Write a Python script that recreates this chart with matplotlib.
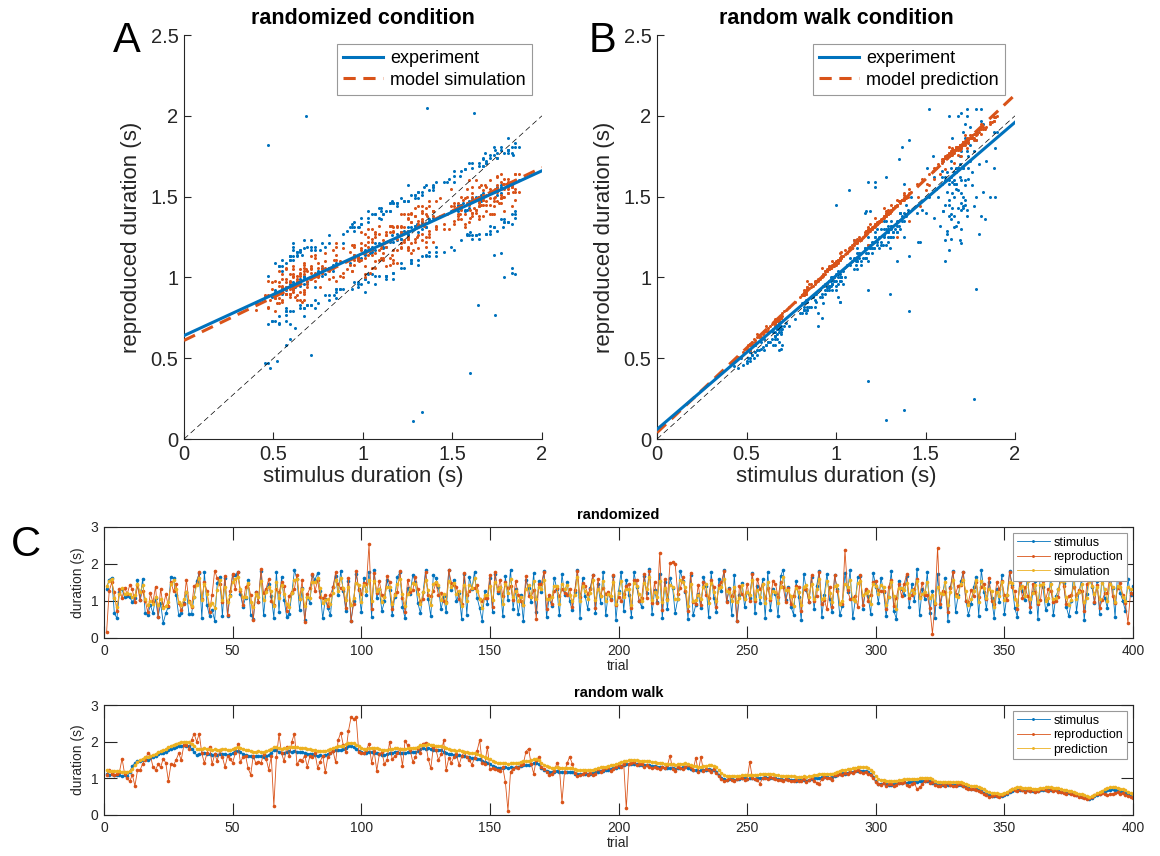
import numpy as np
import matplotlib
matplotlib.use("Agg")
import matplotlib.pyplot as plt

plt.rcParams["font.family"] = ["Liberation Sans", "DejaVu Sans"]

BLUE = "#0072BD"
ORANGE = "#D95319"
YELLOW = "#EDB120"
AXC = "#262626"

# ---- randomized condition, per trial (values in 1/100 s) -------------------
rand_stim = [
    133, 158, 163, 67, 53, 125, 131, 110, 113, 110,
    98, 107, 158, 103, 160, 67, 62, 89, 67, 107,
    57, 94, 40, 67, 85, 166, 161, 116, 62, 67,
    94, 125, 65, 65, 110, 155, 175, 55, 177, 89,
    59, 76, 47, 148, 166, 59, 161, 59, 116, 171,
    171, 177, 119, 84, 109, 156, 63, 52, 125, 97,
    181, 61, 130, 147, 113, 55, 178, 71, 165, 103,
    57, 66, 121, 183, 159, 75, 134, 48, 111, 95,
    169, 158, 175, 127, 53, 104, 81, 61, 139, 168,
    115, 181, 127, 73, 154, 45, 101, 173, 133, 69,
    163, 117, 178, 57, 184, 107, 131, 73, 99, 157,
    129, 61, 111, 165, 177, 85, 53, 135, 119, 171,
    151, 94, 67, 123, 183, 105, 59, 169, 161, 137,
    77, 113, 69, 185, 129, 157, 99, 121, 51, 173,
    63, 165, 133, 179, 109, 81, 47, 127, 93, 161,
    71, 174, 121, 139, 59, 167, 103, 185, 79, 131,
    65, 117, 45, 157, 135, 97, 175, 71, 153, 123,
    181, 57, 107, 87, 163, 133, 61, 173, 117, 151,
    99, 75, 125, 185, 55, 161, 113, 79, 135, 169,
    67, 145, 95, 177, 61, 121, 105, 167, 49, 127,
    179, 73, 157, 115, 57, 177, 139, 101, 83, 167,
    121, 187, 65, 129, 97, 174, 53, 151, 77, 162,
    136, 68, 105, 181, 155, 125, 51, 171, 61, 89,
    119, 81, 165, 141, 57, 177, 107, 71, 159, 127,
    183, 99, 135, 63, 171, 47, 115, 149, 83, 125,
    109, 175, 67, 141, 95, 159, 55, 179, 75, 133,
    119, 59, 167, 185, 103, 137, 85, 63, 153, 111,
    49, 173, 129, 97, 165, 77, 141, 181, 57, 117,
    174, 105, 69, 169, 131, 61, 87, 176, 123, 183,
    53, 101, 164, 167, 79, 129, 113, 65, 175, 139,
    95, 163, 125, 59, 111, 181, 73, 51, 155, 133,
    117, 167, 83, 145, 99, 187, 61, 131, 105, 177,
    67, 128, 55, 172, 85, 121, 161, 47, 137, 181,
    71, 115, 153, 179, 101, 63, 91, 137, 165, 59,
    185, 125, 77, 151, 107, 55, 133, 97, 171, 65,
    117, 181, 143, 81, 57, 165, 127, 103, 173, 69,
    123, 155, 51, 183, 137, 75, 93, 169, 61, 113,
    131, 175, 149, 85, 59, 101, 183, 71, 125, 159,
    49, 119, 171, 139, 95, 153, 65, 185, 109, 81,
    165, 135, 57, 179, 121, 101, 73, 160, 115, 141,
]
rand_repro = [
    17, 127, 150, 123, 72, 131, 108, 136, 119, 143,
    131, 96, 142, 102, 128, 101, 69, 121, 96, 139,
    58, 133, 84, 118, 87, 151, 126, 147, 94, 76,
    93, 157, 99, 83, 141, 145, 177, 104, 152, 127,
    71, 117, 182, 161, 147, 96, 168, 62, 126, 174,
    132, 179, 127, 89, 137, 146, 116, 48, 125, 97,
    186, 121, 133, 159, 99, 90, 131, 123, 150, 141,
    73, 114, 124, 133, 171, 104, 156, 44, 118, 134,
    172, 126, 156, 111, 107, 115, 86, 117, 137, 177,
    146, 134, 131, 81, 163, 47, 91, 181, 130, 119,
    149, 146, 253, 77, 176, 121, 153, 117, 112, 167,
    151, 79, 119, 124, 181, 109, 71, 157, 123, 129,
    166, 131, 99, 106, 177, 116, 113, 127, 148, 116,
    121, 101, 97, 183, 149, 142, 137, 106, 92, 176,
    116, 127, 134, 134, 143, 106, 101, 109, 109, 171,
    83, 179, 128, 157, 113, 152, 134, 141, 102, 153,
    117, 99, 88, 167, 114, 111, 129, 52, 145, 147,
    179, 79, 117, 93, 126, 134, 113, 131, 122, 117,
    133, 84, 129, 181, 111, 149, 141, 119, 131, 171,
    81, 159, 114, 136, 119, 124, 102, 169, 88, 111,
    100, 119, 141, 146, 81, 157, 156, 99, 108, 174,
    109, 181, 95, 151, 94, 229, 76, 159, 106, 202,
    205, 200, 119, 134, 166, 126, 73, 176, 97, 93,
    144, 89, 150, 116, 109, 156, 139, 83, 143, 151,
    181, 96, 131, 113, 127, 47, 141, 119, 104, 147,
    101, 174, 100, 159, 131, 147, 107, 136, 103, 153,
    146, 111, 150, 137, 97, 136, 91, 114, 141, 139,
    73, 131, 132, 96, 169, 101, 113, 179, 92, 103,
    77, 139, 83, 171, 128, 93, 93, 238, 129, 106,
    107, 114, 83, 169, 89, 132, 101, 117, 151, 154,
    129, 126, 127, 79, 139, 158, 86, 109, 145, 113,
    146, 173, 107, 116, 133, 160, 111, 149, 117, 115,
    81, 11, 93, 244, 93, 128, 124, 71, 135, 179,
    119, 141, 144, 177, 99, 97, 129, 113, 150, 111,
    139, 147, 104, 163, 101, 93, 151, 131, 153, 116,
    103, 177, 138, 126, 79, 150, 109, 137, 114, 83,
    147, 123, 91, 103, 154, 103, 131, 127, 96, 101,
    111, 174, 141, 93, 113, 117, 139, 117, 129, 126,
    73, 146, 153, 156, 97, 143, 81, 102, 121, 121,
    171, 113, 94, 134, 149, 115, 94, 41, 122, 119,
]
rand_sim = [
    140, 155, 160, 108, 84, 118, 135, 120, 122, 118,
    110, 115, 146, 125, 142, 106, 88, 100, 92, 110,
    90, 104, 80, 86, 98, 145, 156, 132, 96, 90,
    104, 124, 98, 86, 112, 142, 162, 102, 146, 118,
    90, 94, 82, 130, 157, 102, 138, 98, 114, 152,
    160, 164, 131, 111, 111, 148, 98, 84, 119, 112,
    155, 102, 125, 139, 128, 86, 150, 107, 144, 119,
    93, 85, 121, 156, 160, 106, 132, 86, 111, 108,
    151, 150, 163, 134, 95, 103, 104, 91, 122, 157,
    128, 161, 134, 103, 139, 89, 107, 149, 144, 96,
    142, 128, 158, 99, 153, 128, 133, 98, 111, 139,
    138, 92, 115, 146, 159, 119, 87, 119, 132, 149,
    146, 120, 91, 123, 156, 130, 88, 147, 152, 144,
    103, 119, 94, 155, 138, 149, 118, 128, 87, 144,
    101, 144, 136, 161, 127, 106, 81, 115, 116, 140,
    103, 150, 131, 138, 93, 145, 122, 160, 110, 126,
    101, 111, 88, 131, 143, 112, 153, 105, 139, 131,
    156, 105, 106, 110, 140, 141, 93, 147, 131, 144,
    117, 100, 117, 164, 99, 140, 126, 106, 122, 156,
    102, 133, 114, 155, 100, 119, 114, 151, 93, 121,
    155, 112, 133, 132, 90, 149, 141, 120, 100, 148,
    132, 164, 103, 124, 112, 154, 97, 135, 103, 143,
    138, 105, 106, 158, 150, 137, 87, 145, 101, 103,
    117, 106, 138, 147, 94, 149, 125, 99, 134, 139,
    159, 128, 125, 99, 139, 98, 108, 144, 106, 124,
    117, 157, 104, 130, 111, 145, 95, 150, 109, 127,
    124, 95, 138, 164, 130, 129, 114, 86, 136, 123,
    89, 139, 143, 111, 147, 105, 132, 159, 106, 109,
    155, 122, 98, 141, 144, 93, 101, 146, 139, 158,
    104, 100, 148, 154, 115, 122, 126, 91, 147, 141,
    119, 142, 139, 90, 112, 152, 114, 79, 136, 135,
    129, 148, 117, 130, 121, 153, 107, 118, 124, 151,
    109, 117, 94, 139, 121, 118, 150, 89, 125, 158,
    113, 112, 146, 158, 127, 89, 105, 127, 156, 97,
    153, 136, 107, 133, 127, 85, 123, 113, 152, 102,
    117, 152, 149, 106, 90, 136, 140, 114, 153, 104,
    122, 143, 98, 144, 147, 101, 108, 145, 105, 107,
    132, 154, 155, 111, 90, 102, 157, 106, 125, 146,
    97, 109, 155, 141, 120, 138, 105, 148, 132, 99,
    147, 139, 97, 141, 139, 112, 101, 137, 132, 131,
]

# ---- random walk condition, per trial (values in 1/100 s) ------------------
walk_stim = [
    112, 110, 111, 108, 110, 109, 107, 108, 105, 118,
    134, 141, 147, 146, 150, 152, 151, 155, 158, 161,
    166, 170, 168, 173, 178, 181, 183, 186, 188, 189,
    190, 188, 189, 181, 172, 163, 165, 168, 170, 167,
    165, 164, 166, 163, 165, 167, 166, 163, 165, 168,
    174, 175, 171, 167, 164, 162, 161, 159, 160, 161,
    160, 159, 162, 164, 170, 177, 176, 172, 168, 170,
    172, 174, 173, 175, 173, 171, 172, 169, 167, 166,
    166, 164, 162, 163, 161, 163, 165, 169, 174, 177,
    178, 176, 179, 184, 187, 188, 186, 180, 175, 171,
    168, 170, 172, 171, 169, 170, 167, 164, 163, 166,
    168, 170, 172, 171, 169, 168, 170, 171, 173, 172,
    172, 175, 180, 182, 181, 182, 180, 178, 177, 178,
    176, 173, 169, 167, 165, 163, 162, 164, 161, 160,
    159, 157, 155, 156, 154, 152, 148, 145, 141, 138,
    134, 131, 129, 128, 129, 130, 128, 130, 129, 131,
    132, 134, 136, 135, 137, 138, 141, 142, 138, 127,
    122, 119, 118, 117, 118, 119, 117, 118, 116, 117,
    118, 116, 113, 112, 111, 113, 112, 111, 112, 114,
    116, 118, 120, 121, 122, 123, 125, 127, 129, 131,
    134, 136, 138, 139, 140, 139, 138, 137, 136, 136,
    137, 135, 134, 133, 132, 132, 131, 129, 127, 128,
    127, 126, 128, 129, 130, 131, 128, 125, 123, 122,
    121, 122, 123, 124, 125, 124, 122, 118, 110, 102,
    98, 96, 97, 98, 96, 97, 99, 100, 101, 99,
    100, 101, 99, 100, 102, 101, 103, 102, 101, 102,
    100, 98, 97, 96, 97, 98, 96, 95, 94, 95,
    95, 96, 94, 96, 98, 100, 101, 102, 103, 104,
    103, 102, 104, 106, 109, 112, 114, 113, 115, 116,
    117, 119, 120, 121, 120, 119, 117, 112, 103, 92,
    84, 85, 86, 84, 82, 83, 84, 86, 87, 88,
    89, 88, 90, 89, 91, 90, 92, 93, 94, 93,
    92, 88, 84, 82, 83, 81, 82, 83, 82, 81,
    82, 83, 82, 80, 77, 74, 72, 71, 70, 69,
    66, 61, 56, 54, 53, 52, 53, 51, 52, 55,
    58, 62, 66, 68, 69, 68, 67, 66, 67, 66,
    65, 66, 65, 67, 68, 69, 68, 69, 67, 68,
    66, 64, 62, 61, 60, 59, 57, 55, 52, 50,
    48, 45, 43, 47, 52, 55, 58, 62, 66, 68,
    69, 70, 68, 67, 65, 63, 60, 56, 52, 50,
]
walk_repro = [
    110, 123, 112, 108, 112, 118, 154, 112, 100, 92,
    110, 79, 122, 122, 140, 150, 168, 162, 132, 123,
    138, 130, 154, 142, 93, 138, 136, 150, 168, 150,
    190, 190, 180, 204, 222, 200, 222, 168, 142, 168,
    186, 139, 165, 148, 177, 158, 131, 160, 152, 143,
    168, 193, 144, 158, 162, 127, 110, 162, 141, 145,
    141, 166, 153, 124, 160, 25, 157, 220, 168, 146,
    186, 161, 200, 222, 138, 150, 148, 162, 132, 160,
    158, 168, 129, 145, 162, 117, 159, 170, 175, 144,
    204, 225, 190, 172, 229, 266, 262, 266, 172, 168,
    168, 178, 195, 143, 175, 121, 165, 172, 138, 150,
    200, 152, 160, 168, 180, 134, 202, 190, 178, 145,
    157, 182, 170, 195, 197, 153, 127, 185, 178, 150,
    165, 204, 123, 155, 143, 158, 165, 136, 160, 172,
    158, 150, 137, 155, 175, 204, 142, 140, 185, 125,
    128, 125, 122, 120, 130, 90, 12, 118, 125, 130,
    128, 135, 140, 173, 181, 140, 113, 150, 158, 130,
    125, 118, 110, 112, 120, 141, 128, 36, 118, 141,
    159, 140, 115, 105, 108, 112, 118, 110, 115, 108,
    112, 125, 118, 122, 128, 130, 120, 126, 132, 135,
    132, 140, 18, 138, 142, 145, 135, 138, 140, 130,
    135, 132, 128, 130, 128, 125, 132, 128, 135, 162,
    125, 120, 130, 128, 125, 132, 135, 130, 122, 156,
    118, 159, 120, 125, 122, 118, 125, 115, 105, 98,
    92, 95, 100, 96, 94, 98, 100, 102, 96, 98,
    145, 100, 98, 95, 85, 102, 100, 98, 104, 100,
    98, 96, 95, 94, 99, 96, 92, 94, 96, 92,
    94, 98, 90, 95, 100, 92, 88, 85, 98, 104,
    100, 102, 96, 108, 110, 112, 110, 115, 112, 118,
    115, 120, 122, 118, 115, 118, 112, 110, 100, 90,
    85, 82, 88, 80, 84, 85, 80, 82, 88, 86,
    90, 82, 78, 85, 88, 70, 75, 84, 92, 95,
    88, 90, 82, 80, 78, 84, 80, 86, 82, 78,
    80, 85, 84, 78, 74, 70, 72, 70, 68, 66,
    62, 58, 55, 50, 52, 55, 52, 50, 54, 58,
    60, 66, 70, 68, 65, 70, 68, 64, 68, 66,
    68, 64, 66, 70, 72, 68, 66, 70, 65, 68,
    64, 62, 60, 58, 62, 57, 55, 54, 50, 48,
    46, 44, 45, 50, 54, 58, 56, 60, 58, 55,
    56, 58, 60, 62, 58, 60, 55, 52, 48, 47,
]
walk_pred = [
    122, 121, 121, 119, 120, 120, 118, 118, 117, 120,
    125, 135, 144, 150, 154, 157, 158, 161, 164, 167,
    171, 175, 176, 180, 185, 189, 192, 195, 197, 199,
    200, 199, 199, 195, 188, 181, 180, 181, 182, 181,
    179, 178, 179, 177, 178, 179, 179, 177, 178, 180,
    184, 186, 184, 181, 178, 176, 175, 173, 173, 174,
    173, 172, 174, 176, 180, 185, 186, 184, 181, 182,
    183, 185, 185, 186, 185, 184, 184, 182, 180, 179,
    178, 177, 175, 175, 174, 175, 176, 179, 183, 186,
    188, 187, 189, 193, 196, 197, 196, 192, 188, 184,
    181, 181, 183, 183, 182, 182, 180, 177, 176, 177,
    179, 180, 182, 182, 181, 180, 181, 182, 184, 184,
    184, 186, 190, 192, 192, 193, 192, 190, 189, 189,
    188, 186, 182, 180, 178, 176, 175, 176, 174, 172,
    171, 170, 168, 168, 166, 164, 161, 158, 155, 152,
    148, 145, 142, 141, 141, 141, 140, 141, 141, 142,
    143, 145, 147, 147, 148, 149, 152, 153, 151, 143,
    137, 133, 131, 129, 129, 130, 129, 129, 128, 128,
    129, 127, 125, 123, 122, 123, 123, 122, 122, 124,
    126, 128, 130, 131, 132, 133, 135, 137, 139, 141,
    144, 146, 148, 149, 150, 150, 149, 148, 147, 147,
    148, 147, 145, 144, 143, 143, 142, 140, 138, 138,
    138, 137, 138, 139, 140, 141, 139, 136, 134, 133,
    132, 132, 133, 134, 135, 135, 133, 130, 123, 115,
    110, 107, 107, 107, 106, 106, 107, 108, 109, 108,
    109, 110, 109, 109, 111, 111, 112, 112, 111, 112,
    110, 108, 107, 106, 106, 107, 106, 105, 104, 104,
    104, 105, 104, 105, 107, 109, 110, 111, 112, 113,
    113, 112, 113, 115, 118, 121, 123, 123, 125, 126,
    127, 129, 130, 131, 131, 130, 128, 124, 116, 106,
    98, 96, 96, 94, 92, 92, 93, 94, 95, 96,
    97, 97, 98, 98, 99, 99, 100, 101, 102, 102,
    101, 98, 94, 91, 91, 89, 89, 90, 90, 89,
    89, 90, 90, 88, 85, 82, 80, 79, 78, 77,
    74, 70, 65, 62, 60, 59, 59, 58, 58, 60,
    63, 67, 71, 74, 75, 75, 74, 73, 73, 73,
    72, 72, 72, 73, 74, 75, 75, 75, 74, 74,
    73, 71, 69, 67, 66, 65, 63, 61, 58, 56,
    54, 51, 49, 51, 55, 59, 62, 66, 70, 73,
    75, 76, 75, 74, 72, 70, 67, 63, 59, 56,
]

fit_rand_exp = (0.64, 0.51)
fit_rand_sim = (0.61, 0.535)
fit_walk_exp = (0.06, 0.95)
fit_walk_pred = (0.04, 1.045)

rs, rr, rm = (np.array(v) / 100 for v in (rand_stim, rand_repro, rand_sim))
ws, wr, wp = (np.array(v) / 100 for v in (walk_stim, walk_repro, walk_pred))
trials = np.arange(1, len(rs) + 1)

fig = plt.figure(figsize=(11.6, 8.56), dpi=100)


def style_axes(ax, fs, ticklen, box):
    for side in ("top", "right"):
        ax.spines[side].set_visible(box)
    for sp in ax.spines.values():
        sp.set_color(AXC)
        sp.set_linewidth(0.8)
    ax.tick_params(direction="in", length=ticklen, width=0.8, colors=AXC,
                   labelsize=fs, top=box, right=box, pad=4)


def scatter_panel(rect, stim, resp, model, fit_e, fit_m, title, model_label, letter):
    ax = fig.add_axes(rect)
    ax.plot(stim, resp, "o", ms=2.2, mew=0, color=BLUE, zorder=2)
    ax.plot(stim, model, "o", ms=2.2, mew=0, color=ORANGE, zorder=2)
    xx = np.array([0, 2])
    ax.plot(xx, xx, "--", color="k", lw=0.5, dashes=(8, 5), zorder=3)
    le, = ax.plot(xx, fit_e[0] + fit_e[1] * xx, color=BLUE, lw=2.2, zorder=5,
                  label="experiment")
    lm, = ax.plot(xx, fit_m[0] + fit_m[1] * xx, "--", color=ORANGE, lw=2.2,
                  dashes=(4, 2.5), zorder=4, label=model_label)
    ax.set_xlim(0, 2)
    ax.set_ylim(0, 2.5)
    ax.set_xticks([0, 0.5, 1, 1.5, 2])
    ax.set_xticklabels(["0", "0.5", "1", "1.5", "2"])
    ax.set_yticks([0, 0.5, 1, 1.5, 2, 2.5])
    ax.set_yticklabels(["0", "0.5", "1", "1.5", "2", "2.5"])
    style_axes(ax, 14.5, 5, False)
    ax.set_xlabel("stimulus duration (s)", fontsize=16, color=AXC, labelpad=2)
    ax.set_ylabel("reproduced duration (s)", fontsize=16, color=AXC, labelpad=6)
    ax.set_title(title, fontsize=15.5, fontweight="bold", pad=8)
    leg = ax.legend(handles=[le, lm], loc="upper right", fontsize=13,
                    handlelength=2.2, handletextpad=0.4, borderpad=0.35,
                    labelspacing=0.25, fancybox=False, framealpha=1,
                    borderaxespad=0, bbox_to_anchor=(0.972, 0.978))
    leg.get_frame().set_edgecolor("#999999")
    leg.get_frame().set_linewidth(0.8)
    fig.text(letter[1], letter[2], letter[0], fontsize=30, ha="center", va="center")
    return ax


scatter_panel([0.1586, 0.4871, 0.3086, 0.472], rs, rr, rm, fit_rand_exp,
              fit_rand_sim, "randomized condition", "model simulation",
              ("A", 0.109, 0.952))
scatter_panel([0.5664, 0.4871, 0.3086, 0.472], ws, wr, wp, fit_walk_exp,
              fit_walk_pred, "random walk condition", "model prediction",
              ("B", 0.519, 0.952))


def series_panel(rect, stim, resp, model, title, model_label):
    ax = fig.add_axes(rect)
    kw = dict(marker="o", ms=2.6, mew=0, lw=0.6)
    ax.plot(trials, stim, color=BLUE, label="stimulus", **kw)
    ax.plot(trials, resp, color=ORANGE, label="reproduction", **kw)
    ax.plot(trials, model, color=YELLOW, label=model_label, **kw)
    ax.set_xlim(0, 400)
    ax.set_ylim(0, 3)
    ax.set_xticks(np.arange(0, 401, 50))
    ax.set_yticks([0, 1, 2, 3])
    style_axes(ax, 10, 9, True)
    ax.set_xlabel("trial", fontsize=10, color=AXC, labelpad=1)
    ax.set_ylabel("duration (s)", fontsize=10, color=AXC, labelpad=4)
    ax.set_title(title, fontsize=10.5, fontweight="bold", pad=6)
    leg = ax.legend(loc="upper right", fontsize=9, handlelength=2.6,
                    handletextpad=0.3, borderpad=0.3, labelspacing=0.2,
                    fancybox=False, framealpha=1, markerscale=0.8,
                    borderaxespad=0, bbox_to_anchor=(0.994, 0.946))
    leg.get_frame().set_edgecolor("#999999")
    leg.get_frame().set_linewidth(0.8)
    return ax


series_panel([0.0897, 0.2547, 0.8871, 0.1297], rs, rr, rm, "randomized", "simulation")
series_panel([0.0897, 0.0479, 0.8871, 0.1285], ws, wr, wp, "random walk", "prediction")
fig.text(0.022, 0.363, "C", fontsize=30, ha="center", va="center")

fig.savefig("out.png", dpi=100)
